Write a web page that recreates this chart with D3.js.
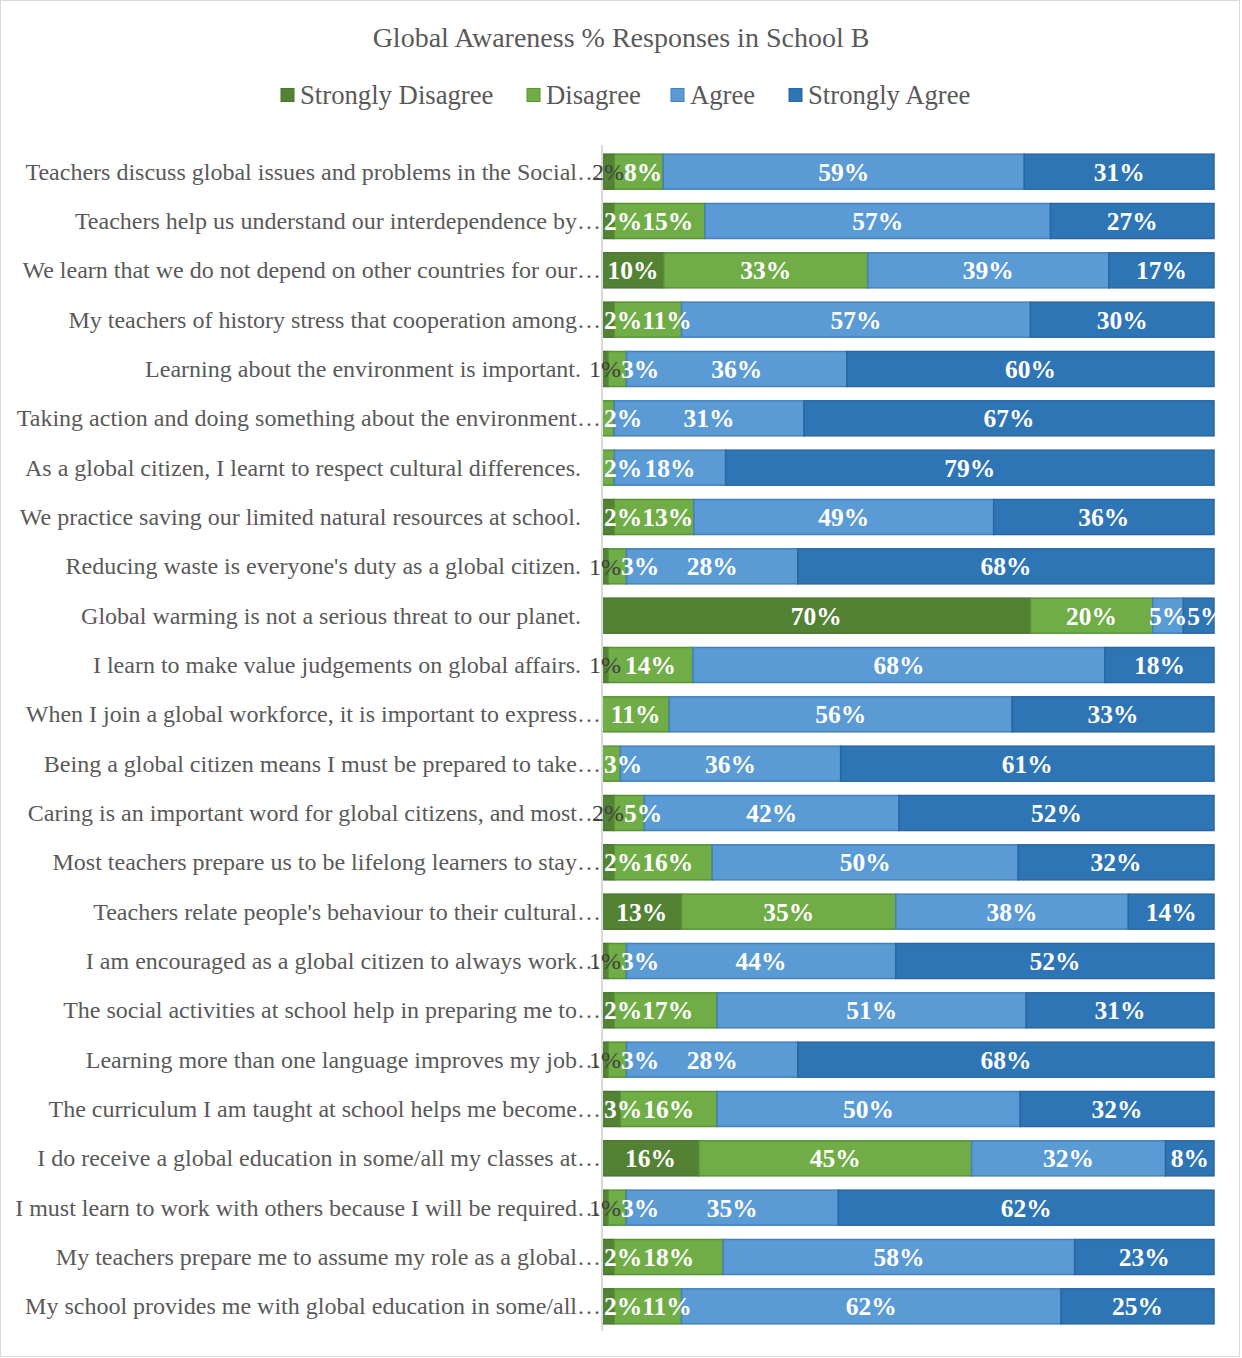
<!DOCTYPE html>
<html>
<head>
<meta charset="utf-8">
<script src="https://cdn.jsdelivr.net/npm/d3@7"></script>
<style>
  html, body { margin: 0; padding: 0; background: #fff; }
  svg { display: block; }
</style>
</head>
<body>
<svg id="chart" width="1242" height="1358"></svg>
<script>
// Survey statements, top to bottom (long ones shortened with an ellipsis)
const categories = [
  "Teachers discuss global issues and problems in the Social…",
  "Teachers help us understand our interdependence by…",
  "We learn that we do not depend on other countries for our…",
  "My teachers of history stress that cooperation among…",
  "Learning about the environment is important.",
  "Taking action and doing something about the environment…",
  "As a global citizen, I learnt to respect cultural differences.",
  "We practice saving our limited natural resources at school.",
  "Reducing waste is everyone's duty as a global citizen.",
  "Global warming is not a serious threat to our planet.",
  "I learn to make value judgements on global affairs.",
  "When I join a global workforce, it is important to express…",
  "Being a global citizen means I must be prepared to take…",
  "Caring is an important word for global citizens, and most…",
  "Most teachers prepare us to be lifelong learners to stay…",
  "Teachers relate people's behaviour to their cultural…",
  "I am encouraged as a global citizen to always work…",
  "The social activities at school help in preparing me to…",
  "Learning more than one language improves my job…",
  "The curriculum I am taught at school helps me become…",
  "I do receive a global education in some/all my classes at…",
  "I must learn to work with others because I will be required…",
  "My teachers prepare me to assume my role as a global…",
  "My school provides me with global education in some/all…"
];

const seriesNames = ["Strongly Disagree", "Disagree", "Agree", "Strongly Agree"];

// Percent of responses per statement
const stronglyDisagree = [2, 2, 10, 2, 1, 0, 0, 2, 1, 70, 1, 0, 0, 2, 2, 13, 1, 2, 1, 3, 16, 1, 2, 2];
const disagree         = [8, 15, 33, 11, 3, 2, 2, 13, 3, 20, 14, 11, 3, 5, 16, 35, 3, 17, 3, 16, 45, 3, 18, 11];
const agree            = [59, 57, 39, 57, 36, 31, 18, 49, 28, 5, 68, 56, 36, 42, 50, 38, 44, 51, 28, 50, 32, 35, 58, 62];
const stronglyAgree    = [31, 27, 17, 30, 60, 67, 79, 36, 68, 5, 18, 33, 61, 52, 32, 14, 52, 31, 68, 32, 8, 62, 23, 25];

const title = "Global Awareness % Responses in School B";

// Build rows for the stack layout
const seriesValues = [stronglyDisagree, disagree, agree, stronglyAgree];
const rows = categories.map((c, i) => {
  const r = { category: c };
  seriesNames.forEach((s, k) => { r[s] = seriesValues[k][i]; });
  return r;
});

const colors = {
  "Strongly Disagree": "#548235",
  "Disagree": "#70ad47",
  "Agree": "#5b9bd5",
  "Strongly Agree": "#2e75b6"
};
const strokes = {
  "Strongly Disagree": "#4a7530",
  "Disagree": "#5a9236",
  "Agree": "#4480ba",
  "Strongly Agree": "#2a66a0"
};

// Statements whose Strongly Disagree label is shown in plain grey type
const greyLabelRows = new Set([0, 4, 8, 10, 13, 16, 18, 21]);

const svg = d3.select("#chart");
const W = 1242, H = 1358;
const serif = "'Liberation Serif', 'Times New Roman', serif";

svg.append("rect")
  .attr("x", 0.5).attr("y", 0.5)
  .attr("width", W - 3).attr("height", H - 2)
  .attr("fill", "#fff").attr("stroke", "#d9d9d9").attr("stroke-width", 1);

const plot = { left: 602, right: 1214, top: 147, bottom: 1331 };

const x = d3.scaleLinear().domain([0, 1]).range([plot.left, plot.right]);
const y = d3.scaleBand()
  .domain(categories)
  .range([plot.top, plot.bottom])
  .paddingInner(0.29)
  .paddingOuter(0.145);

const stack = d3.stack()
  .keys(seriesNames)
  .offset(d3.stackOffsetExpand);
const stacked = stack(rows);

// Title
svg.append("text")
  .attr("x", 621).attr("y", 37)
  .attr("text-anchor", "middle")
  .attr("dominant-baseline", "central")
  .attr("font-family", serif)
  .attr("font-size", 28)
  .attr("fill", "#595959")
  .text(title);

// Legend
const legendX = [281, 527, 671, 789];
const legend = svg.append("g");
seriesNames.forEach((s, k) => {
  const g = legend.append("g").attr("transform", `translate(${legendX[k]},95)`);
  g.append("rect")
    .attr("x", 0).attr("y", -6.5)
    .attr("width", 13).attr("height", 13)
    .attr("fill", colors[s]).attr("stroke", strokes[s]).attr("stroke-width", 1);
  g.append("text")
    .attr("x", 19).attr("y", 0)
    .attr("dominant-baseline", "central")
    .attr("font-family", serif)
    .attr("font-size", 26.7)
    .attr("fill", "#595959")
    .text(s);
});

// Category axis labels
svg.append("g")
  .selectAll("text")
  .data(categories)
  .join("text")
  .attr("x", d => d.endsWith("…") ? 601 : 581)
  .attr("y", d => y(d) + y.bandwidth() / 2)
  .attr("dy", "0.33em")
  .attr("text-anchor", "end")
  .attr("font-family", serif)
  .attr("font-size", 24)
  .attr("fill", "#595959")
  .text(d => d);

// Stacked segments
const layers = svg.append("g")
  .selectAll("g")
  .data(stacked)
  .join("g")
  .attr("fill", d => colors[d.key])
  .attr("stroke", d => strokes[d.key])
  .attr("stroke-width", 1.5);

layers.selectAll("rect")
  .data(d => d.filter(p => p[1] - p[0] > 0))
  .join("rect")
  .attr("x", p => x(p[0]))
  .attr("y", p => y(p.data.category))
  .attr("width", p => x(p[1]) - x(p[0]))
  .attr("height", y.bandwidth());

// Category axis line
svg.append("line")
  .attr("x1", plot.left).attr("x2", plot.left)
  .attr("y1", plot.top - 2).attr("y2", plot.bottom)
  .attr("stroke", "#d9d9d9").attr("stroke-width", 2);

// Value labels
svg.append("defs").append("clipPath").attr("id", "labelClip")
  .append("rect").attr("x", 0).attr("y", 0).attr("width", 1219).attr("height", H);

const labelLayer = svg.append("g").attr("clip-path", "url(#labelClip)");

categories.forEach((cat, row) => {
  let prevRight = -Infinity;
  stacked.forEach((layer, k) => {
    const p = layer[row];
    const v = p.data[layer.key];
    if (!(v > 0)) return;
    const grey = k === 0 && greyLabelRows.has(row);
    const t = labelLayer.append("text")
      .attr("y", y(cat) + y.bandwidth() / 2)
      .attr("dy", "0.35em")
      .attr("text-anchor", "start")
      .attr("font-family", serif)
      .attr("font-size", grey ? 24 : 25.5)
      .attr("font-weight", grey ? "normal" : "bold")
      .attr("fill", grey ? "#404040" : "#ffffff")
      .text(v + "%");
    const w = t.node().getComputedTextLength();
    let left = (x(p[0]) + x(p[1])) / 2 - w / 2;
    // white labels stay inside the plot and do not run into the previous label
    if (!grey) left = Math.max(left, plot.left + 2, prevRight);
    t.attr("x", left);
    prevRight = left + w;
  });
});
</script>
</body>
</html>
